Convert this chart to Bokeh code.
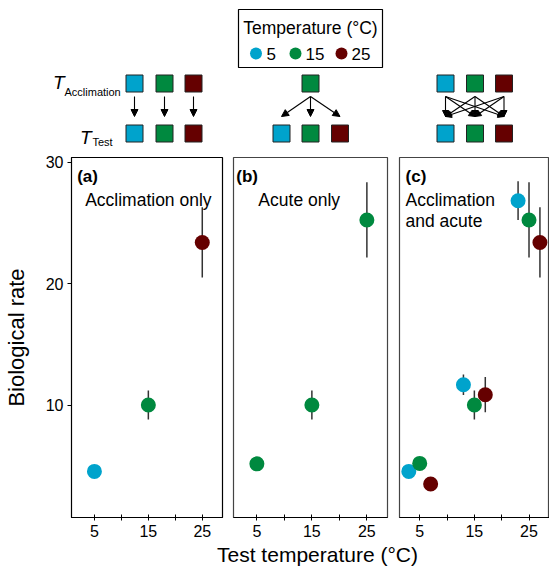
from bokeh.plotting import figure
from bokeh.layouts import column, row
from bokeh.models import Range1d, FixedTicker, Arrow, NormalHead
from bokeh.core.properties import value
from bokeh.embed import file_html
from bokeh.resources import INLINE

FONT = "Liberation Sans"

# ---------------- data ----------------
temps = [5, 15, 25]
colors = ["#00a3cc", "#00893f", "#650000"]

# (a) Acclimation only: acclimation temp == test temp
a_test = [5, 15, 25]
a_rate = [4.53, 10.0, 23.4]
a_err = [0.3, 1.2, 2.9]
a_acclim = [5, 15, 25]

# (b) Acute only: acclimated at 15, tested at 5/15/25
b_test = [5, 15, 25]
b_rate = [5.15, 10.0, 25.25]
b_err = [0.3, 1.2, 3.1]
b_acclim = [15, 15, 15]

# (c) Acclimation and acute: every acclimation x every test temp
c_acclim = [5, 5, 5, 15, 15, 15, 25, 25, 25]
c_test = [5, 15, 25, 5, 15, 25, 5, 15, 25]
c_rate = [4.53, 11.67, 26.84, 5.19, 10.0, 25.25, 3.49, 10.85, 23.4]
c_err = [0.3, 0.85, 1.6, 0.3, 1.2, 3.1, 0.3, 1.45, 2.9]

x_ticks = [5, 10, 15, 20, 25]
x_tick_labels = {5: "5", 10: "", 15: "15", 20: "", 25: "25"}
y_ticks = [10, 20, 30]

col_of = dict(zip(temps, colors))

# ---------------- top: legend + schematic ----------------
top = figure(width=549, height=150, x_range=Range1d(0, 549), y_range=Range1d(150, 0),
             x_axis_type=None, y_axis_type=None, output_backend="svg",
             toolbar_location=None, min_border=0)
top.grid.visible = False
top.outline_line_color = None

top.quad(left=[238], right=[382], top=[9], bottom=[67], fill_color="white",
         line_color="black", line_width=1.2)
top.text(x=[310], y=[27], text=["Temperature (°C)"], text_align="center",
         text_baseline="middle", text_font=value(FONT), text_font_size="17.5px",
         text_color="black")
leg_x = [255.5, 295, 341]
leg_tx = [266, 305, 351]
top.scatter(x=leg_x, y=[53] * 3, size=12, fill_color=colors, line_color=None)
top.text(x=leg_tx, y=[53] * 3, text=[str(t) for t in temps],
         text_align="left", text_baseline="middle", text_font=value(FONT),
         text_font_size="17px", text_color="black")

sq = 17
row_top, row_bot = 83, 133
a_sx = [134, 164, 193]
b_sx = [281, 310, 339.5]
c_sx = [445, 474.5, 503.5]
top.rect(x=a_sx, y=[row_top] * 3, width=sq, height=sq, fill_color=colors, line_color="#222222")
top.rect(x=a_sx, y=[row_bot] * 3, width=sq, height=sq, fill_color=colors, line_color="#222222")
top.rect(x=[b_sx[1]], y=[row_top], width=sq, height=sq, fill_color=[col_of[15]], line_color="#222222")
top.rect(x=b_sx, y=[row_bot] * 3, width=sq, height=sq, fill_color=colors, line_color="#222222")
top.rect(x=c_sx, y=[row_top] * 3, width=sq, height=sq, fill_color=colors, line_color="#222222")
top.rect(x=c_sx, y=[row_bot] * 3, width=sq, height=sq, fill_color=colors, line_color="#222222")

ay0, ay1 = 96, 116
def arrow(x0, x1, size=7):
    top.add_layout(Arrow(end=NormalHead(size=size, fill_color="black", line_color="black"),
                         x_start=x0, y_start=ay0, x_end=x1, y_end=ay1,
                         line_color="black", line_width=1.1))
for xs in a_sx:
    arrow(xs, xs)
for xs in b_sx:
    arrow(b_sx[1], xs)
for x0 in c_sx:
    for x1 in c_sx:
        arrow(x0, x1, size=6)

top.text(x=[64], y=[82], text=["T"], text_align="right", text_baseline="alphabetic",
         text_font=value(FONT), text_font_size="19px", text_font_style="italic", text_color="black")
top.text(x=[64], y=[91], text=["Acclimation"], text_align="left", text_baseline="alphabetic",
         text_font=value(FONT), text_font_size="11px", text_color="black")
top.text(x=[91], y=[137], text=["T"], text_align="right", text_baseline="alphabetic",
         text_font=value(FONT), text_font_size="19px", text_font_style="italic", text_color="black")
top.text(x=[92], y=[141], text=["Test"], text_align="left", text_baseline="alphabetic",
         text_font=value(FONT), text_font_size="11px", text_color="black")

# ---------------- panels ----------------
Y0, Y1 = 0.73, 30.4
PANEL_H = 392

def panel(width, xr, left, right, show_y=False, outline="black"):
    p = figure(width=width, height=PANEL_H, x_range=Range1d(*xr), y_range=Range1d(Y0, Y1),
               output_backend="svg", toolbar_location=None,
               min_border_left=left, min_border_right=right,
               min_border_top=7, min_border_bottom=25)
    p.grid.visible = False
    p.outline_line_color = outline
    p.outline_line_width = 1.2
    xa = p.xaxis[0]
    xa.ticker = FixedTicker(ticks=x_ticks)
    xa.major_label_overrides = x_tick_labels
    xa.major_tick_in = 3
    xa.major_tick_out = 3
    xa.minor_tick_line_color = None
    xa.axis_line_color = "black"
    xa.major_tick_line_color = "black"
    xa.major_label_text_font = FONT
    xa.major_label_text_font_size = "16px"
    xa.major_label_text_color = "black"
    xa.major_label_standoff = 4
    ya = p.yaxis[0]
    if show_y:
        ya.ticker = FixedTicker(ticks=y_ticks)
        ya.major_tick_in = 0
        ya.major_tick_out = 4
        ya.minor_tick_line_color = None
        ya.axis_line_color = "black"
        ya.major_label_text_font = FONT
        ya.major_label_text_font_size = "16px"
        ya.major_label_text_color = "black"
        ya.major_label_standoff = 4
        ya.axis_label = "Biological rate"
        ya.axis_label_text_font = FONT
        ya.axis_label_text_font_size = "22px"
        ya.axis_label_text_font_style = "normal"
        ya.axis_label_text_color = "black"
        ya.axis_label_standoff = 14
    else:
        ya.visible = False
    return p

def draw(p, xs, ys, es, acc):
    p.segment(x0=xs, y0=[y - e for y, e in zip(ys, es)], x1=xs,
              y1=[y + e for y, e in zip(ys, es)], line_color="#333333", line_width=1.5)
    p.scatter(x=xs, y=ys, size=15, fill_color=[col_of[a] for a in acc], line_color=None)

def label(p, x, y, txt, size, bold=False, align="left"):
    p.text(x=[x], y=[y], text=[txt], text_align=align, text_baseline="middle",
           text_font=value(FONT), text_font_size=size,
           text_font_style="bold" if bold else "normal", text_color="black")

pa = panel(228, (0.75, 28.75), 69, 6, show_y=True)
draw(pa, a_test, a_rate, a_err, a_acclim)
label(pa, 1.8, 28.85, "(a)", "17px", bold=True)
label(pa, 15, 26.9, "Acclimation only", "17.5px", align="center")

pb = panel(165, (0.75, 28.75), 5, 6, outline="#444444")
draw(pb, b_test, b_rate, b_err, b_acclim)
label(pb, 1.25, 28.85, "(b)", "17px", bold=True)
label(pb, 12.7, 26.9, "Acute only", "17.5px", align="center")

pc = panel(156, (1.3, 28.75), 6, 0, outline="#444444")
c_x = [t + (a - 15) / 5 for t, a in zip(c_test, c_acclim)]
draw(pc, c_x, c_rate, c_err, c_acclim)
label(pc, 2.4, 28.85, "(c)", "17px", bold=True)
label(pc, 2.4, 26.9, "Acclimation", "17.5px")
label(pc, 2.4, 25.2, "and acute", "17.5px")

# ---------------- shared x-axis title ----------------
BH = 569 - 150 - PANEL_H
bottom = figure(width=549, height=BH, x_range=Range1d(0, 549),
                y_range=Range1d(BH, 0), x_axis_type=None, y_axis_type=None,
                output_backend="svg", toolbar_location=None, min_border=0)
bottom.grid.visible = False
bottom.outline_line_color = None
bottom.text(x=[317], y=[11.5], text=["Test temperature (°C)"], text_align="center",
            text_baseline="middle", text_font=value(FONT), text_font_size="21px",
            text_color="black")

layout = column(top, row(pa, pb, pc, spacing=0), bottom, spacing=0)
open("out.html", "w").write(file_html(layout, INLINE))
